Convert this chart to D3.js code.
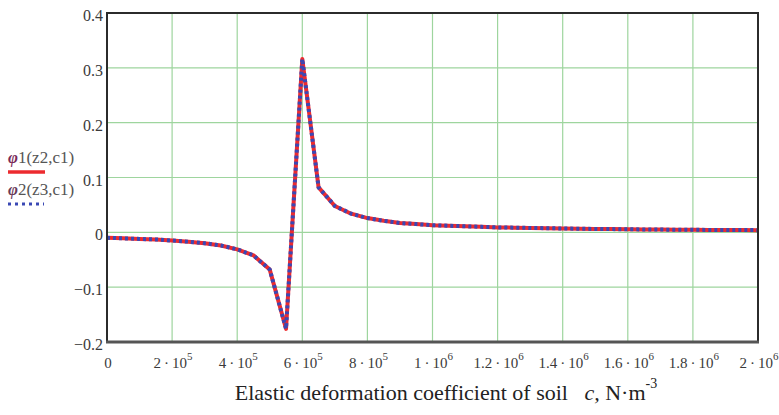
<!DOCTYPE html>
<html><head><meta charset="utf-8">
<script src="https://cdn.jsdelivr.net/npm/d3@7"></script>
<style>
html,body{margin:0;padding:0;background:#fff;}
svg{display:block;}
text{font-family:"Liberation Serif","DejaVu Serif",serif;}
</style></head>
<body>
<svg id="chart" width="779" height="415"></svg>
<script>
// Data (c in N·m^-3, response value)
const cValues = [0,5e4,1e5,1.5e5,2e5,2.5e5,3e5,3.5e5,4e5,4.5e5,5e5,5.5e5,6e5,6.5e5,7e5,7.5e5,8e5,8.5e5,9e5,9.5e5,
  1e6,1.05e6,1.1e6,1.15e6,1.2e6,1.25e6,1.3e6,1.35e6,1.4e6,1.45e6,1.5e6,1.55e6,1.6e6,1.65e6,1.7e6,1.75e6,1.8e6,1.85e6,1.9e6,1.95e6,2e6];
const phi1 = [-0.010,-0.011,-0.012,-0.013,-0.015,-0.017,-0.020,-0.024,-0.031,-0.042,-0.068,-0.176,0.316,0.082,0.048,0.034,0.026,0.021,0.017,0.015,
  0.013,0.012,0.011,0.010,0.009,0.0085,0.008,0.0075,0.007,0.0066,0.0062,0.0059,0.0056,0.0053,0.0050,0.0048,0.0046,0.0044,0.0042,0.0041,0.0040];
const phi2 = phi1.slice();
const xTicks = [0,2e5,4e5,6e5,8e5,1e6,1.2e6,1.4e6,1.6e6,1.8e6,2e6];
const xTickMant = ["0","2","4","6","8","1","1.2","1.4","1.6","1.8","2"];
const xTickExp = ["","5","5","5","5","6","6","6","6","6","6"];
const yTicks = [-0.2,-0.1,0,0.1,0.2,0.3,0.4];
const yTickLabels = ["\u22120.2","\u22120.1","0","0.1","0.2","0.3","0.4"];

const svg = d3.select("#chart");
const L=107, R=758, T=13, B=342;
const x = d3.scaleLinear().domain([0,2e6]).range([L,R]);
const y = d3.scaleLinear().domain([-0.2,0.4]).range([B,T]);

// grid
const g = svg.append("g");
g.selectAll("line.vx").data(xTicks.slice(1,-1)).enter().append("line")
  .attr("x1",d=>x(d)).attr("x2",d=>x(d)).attr("y1",T).attr("y2",B)
  .attr("stroke","#9ed59e").attr("stroke-width",1.2);
g.selectAll("line.hy").data(yTicks.slice(1,-1)).enter().append("line")
  .attr("y1",d=>y(d)).attr("y2",d=>y(d)).attr("x1",L).attr("x2",R)
  .attr("stroke","#9ed59e").attr("stroke-width",1.2);

// curves
const line = d3.line().x((d,i)=>x(cValues[i])).y(d=>y(d));
svg.append("path").datum(phi1).attr("d",line).attr("fill","none")
  .attr("stroke","#ec2b2f").attr("stroke-width",4).attr("stroke-linejoin","round");
svg.append("path").datum(phi2).attr("d",line).attr("fill","none")
  .attr("stroke","#3a48b4").attr("stroke-width",4).attr("stroke-dasharray","3,3");

// frame
svg.append("rect").attr("x",L).attr("y",T).attr("width",R-L).attr("height",B-T)
  .attr("fill","none").attr("stroke","#2b2b2b").attr("stroke-width",2);
svg.append("line").attr("x1",L-1).attr("x2",R+1).attr("y1",B).attr("y2",B)
  .attr("stroke","#555").attr("stroke-width",3);

// y tick labels
svg.selectAll("text.yt").data(yTicks).enter().append("text")
  .attr("x",L-4).attr("y",d=>y(d)+8).attr("text-anchor","end")
  .attr("font-size",16).attr("fill","#3a3a3a").text((d,i)=>yTickLabels[i]);

// x tick labels
const xt = svg.selectAll("text.xt").data(xTicks).enter().append("text")
  .attr("x",d=>x(d)+1).attr("y",368).attr("text-anchor","middle")
  .attr("font-size",15).attr("fill","#3a3a3a");
xt.each(function(d,i){
  const t=d3.select(this);
  if(xTickExp[i]===""){ t.text(xTickMant[i]); return; }
  t.append("tspan").text(xTickMant[i]+"\u2009\u00b7\u200910");
  t.append("tspan").attr("dy",-8).attr("font-size",11).text(xTickExp[i]);
});

// axis title
const title = svg.append("text").attr("x",446).attr("y",400).attr("text-anchor","middle")
  .attr("font-size",22).attr("fill","#222");
title.append("tspan").text("Elastic deformation coefficient of soil\u00a0\u00a0\u00a0");
title.append("tspan").attr("font-style","italic").text("c,");
title.append("tspan").text(" N\u00b7m");
title.append("tspan").attr("dy",-12).attr("font-size",14).text("-3");

// legend
const leg1 = svg.append("text").attr("x",8).attr("y",163).attr("font-size",17).attr("fill","#555");
leg1.append("tspan").attr("font-style","italic").attr("font-weight","bold").attr("fill","#7a2a5a").text("\u03c6");
leg1.append("tspan").text("1(z2,c1)");
svg.append("line").attr("x1",8).attr("x2",45).attr("y1",172).attr("y2",172)
  .attr("stroke","#ec2b2f").attr("stroke-width",3.5);
const leg2 = svg.append("text").attr("x",8).attr("y",195).attr("font-size",17).attr("fill","#555");
leg2.append("tspan").attr("font-style","italic").attr("font-weight","bold").attr("fill","#6a3a5a").text("\u03c6");
leg2.append("tspan").text("2(z3,c1)");
svg.append("line").attr("x1",8).attr("x2",44).attr("y1",204).attr("y2",204)
  .attr("stroke","#3a48b4").attr("stroke-width",3).attr("stroke-dasharray","3,4");
</script>
</body></html>
